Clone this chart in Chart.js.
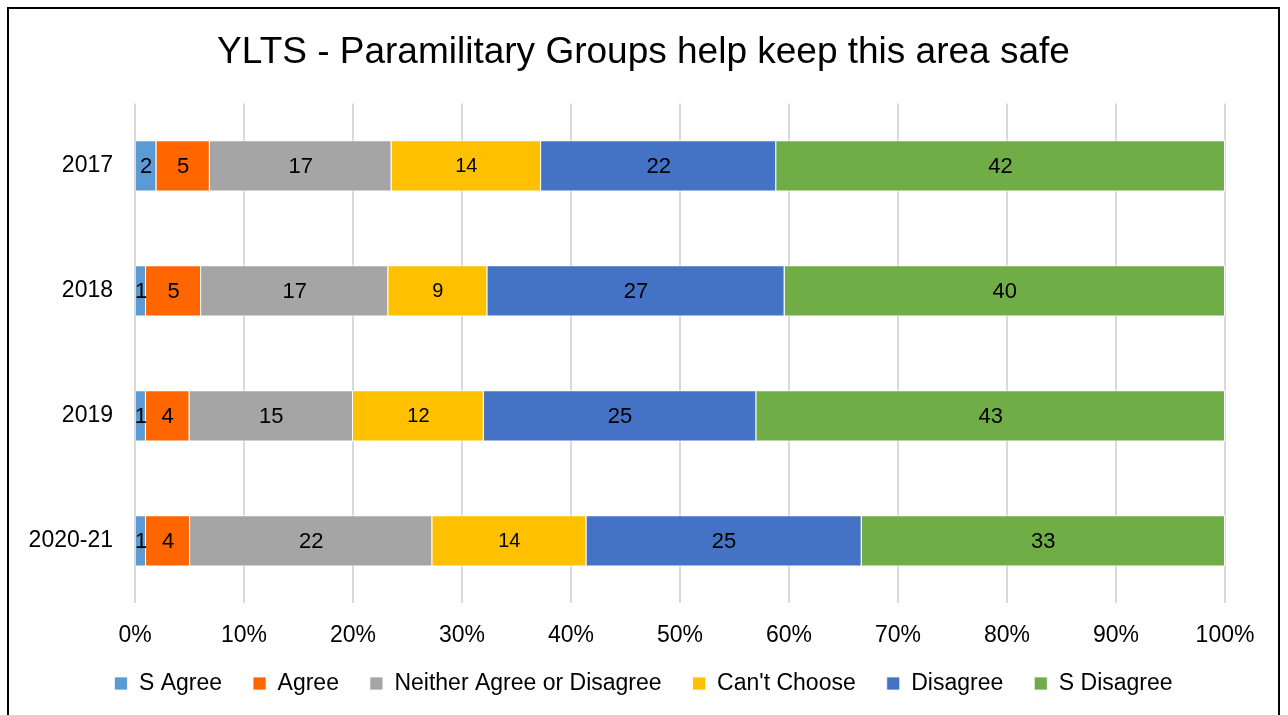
<!DOCTYPE html>
<html>
<head>
<meta charset="utf-8">
<script src="https://cdn.jsdelivr.net/npm/chart.js@4/dist/chart.umd.min.js"></script>
<style>
    html, body { margin: 0; padding: 0; background: #fff; }
    #frame {
        position: absolute;
        left: 7px; top: 7px;
        width: 1273px; height: 720px;
        border: 2px solid #000;
        box-sizing: border-box;
    }
    #wrap { position: absolute; left: 0; top: 0; width: 1269px; height: 716px; }
</style>
</head>
<body>
<div id="frame"><div id="wrap"><canvas id="chart"></canvas></div></div>
<script>
const years = ['2017', '2018', '2019', '2020-21'];
const seriesNames = ['S Agree', 'Agree', 'Neither Agree or Disagree', "Can't Choose", 'Disagree', 'S Disagree'];
const seriesColors = ['#5b9bd5', '#ff6600', '#a5a5a5', '#ffc000', '#4472c4', '#70ad47'];

const sAgree = [2, 1, 1, 1];
const agree = [5, 5, 4, 4];
const neither = [17, 17, 15, 22];
const cantChoose = [14, 9, 12, 14];
const disagree = [22, 27, 25, 25];
const sDisagree = [42, 40, 43, 33];

const xTicks = [0, 10, 20, 30, 40, 50, 60, 70, 80, 90, 100];

const rawSeries = [sAgree, agree, neither, cantChoose, disagree, sDisagree];

// row totals, so every bar fills 100%
const totals = years.map((y, i) => rawSeries.reduce((s, arr) => s + arr[i], 0));

const fontFamily = '"Liberation Sans", Arial, sans-serif';
const legendCut = 26;

// draws the raw count in the middle of each segment
const segmentLabels = {
    id: 'segmentLabels',
    afterDatasetsDraw(chart) {
        const ctx = chart.ctx;
        ctx.save();
        ctx.fillStyle = '#000';
        ctx.textAlign = 'center';
        ctx.textBaseline = 'middle';
        chart.data.datasets.forEach((ds, di) => {
            const meta = chart.getDatasetMeta(di);
            const size = di === 3 ? 20 : 22;
            ctx.font = size + 'px ' + fontFamily;
            meta.data.forEach((bar, i) => {
                const c = bar.getCenterPoint();
                ctx.fillText(String(ds.raw[i]), c.x, c.y + 1);
            });
        });
        ctx.restore();
    }
};

// legend keeps wide horizontal gaps but takes less height
const legendTweak = {
    id: 'legendTweak',
    beforeLayout(chart) {
        const lg = chart.legend;
        if (!lg || lg._tweaked) return;
        const fit = lg.fit;
        lg.fit = function () {
            fit.call(this);
            this.height -= legendCut;
        };
        lg._tweaked = true;
    },
    afterLayout(chart) {
        const lg = chart.legend;
        if (!lg) return;
        lg.top -= legendCut;
        lg.height += legendCut;
    }
};

new Chart(document.getElementById('chart'), {
    type: 'bar',
    data: {
        labels: years,
        datasets: seriesNames.map((name, k) => ({
            label: name,
            raw: rawSeries[k],
            data: rawSeries[k].map((v, i) => v / totals[i] * 100),
            backgroundColor: seriesColors[k],
            borderColor: '#ffffff',
            borderWidth: { top: 1, bottom: 1, left: 0, right: 1 },
            borderSkipped: false,
            categoryPercentage: 0.41,
            barPercentage: 1,
        }))
    },
    options: {
        indexAxis: 'y',
        responsive: true,
        maintainAspectRatio: false,
        animation: false,
        layout: { padding: { left: 0, right: 0, top: 8, bottom: 20 } },
        plugins: {
            title: {
                display: true,
                text: 'YLTS - Paramilitary Groups help keep this area safe',
                color: '#000',
                font: { family: fontFamily, size: 37, weight: 'normal' },
                padding: { top: 14, bottom: 28 }
            },
            legend: {
                position: 'bottom',
                labels: {
                    color: '#000',
                    font: { family: fontFamily, size: 23 },
                    boxWidth: 13,
                    boxHeight: 13,
                    padding: 31
                }
            },
            tooltip: { enabled: false }
        },
        scales: {
            x: {
                stacked: true,
                min: 0,
                max: 100,
                afterBuildTicks: (axis) => {
                    axis.ticks = xTicks.map(v => ({ value: v }));
                },
                afterFit: (axis) => { axis.paddingRight = 53; },
                grid: { color: '#d9d9d9', lineWidth: 2, drawTicks: false },
                border: { display: false },
                ticks: {
                    color: '#000',
                    padding: 18,
                    font: { family: fontFamily, size: 23 },
                    callback: (value) => value + '%'
                }
            },
            y: {
                stacked: true,
                afterFit: (axis) => { axis.width = 126; },
                grid: { display: false, drawTicks: false },
                border: { display: false },
                ticks: {
                    color: '#000',
                    padding: 22,
                    font: { family: fontFamily, size: 23 }
                }
            }
        }
    },
    plugins: [segmentLabels, legendTweak]
});
</script>
</body>
</html>
